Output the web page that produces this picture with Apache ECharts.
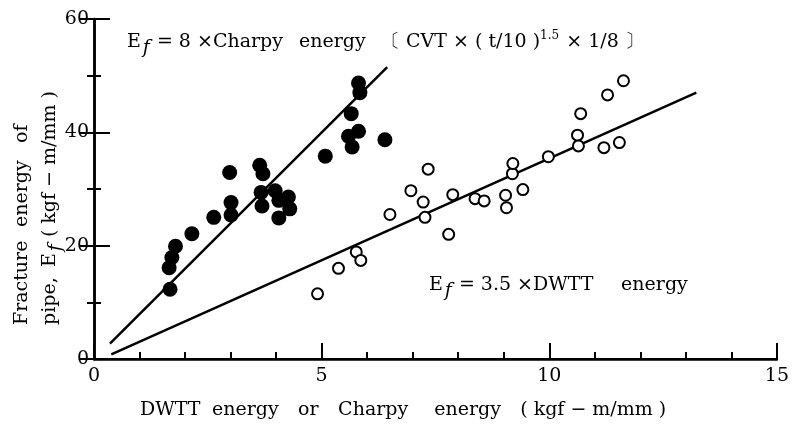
<!DOCTYPE html>
<html>
<head>
<meta charset="utf-8">
<script src="https://cdn.jsdelivr.net/npm/echarts@6/dist/echarts.min.js"></script>
<style>
  html, body { margin: 0; padding: 0; background: #fff; }
  #chart1 { width: 792px; height: 432px; }
</style>
</head>
<body>
<div id="chart1"></div>
<script>
// Charpy based points (filled)
var charpyX = [1.67, 1.65, 1.71, 1.79, 2.15, 2.63, 3.01, 3.01, 2.98, 3.64, 3.71, 3.67, 3.69,
    3.98, 4.06, 4.27, 4.30, 4.06, 5.08, 5.65, 5.81, 5.84, 5.81, 5.59, 5.67, 6.39];
var charpyY = [12.3, 16.1, 17.9, 19.9, 22.1, 25.0, 25.4, 27.6, 32.9, 34.2, 32.7, 29.4, 27.0,
    29.7, 28.0, 28.6, 26.5, 24.9, 35.8, 43.3, 48.7, 47.0, 40.2, 39.3, 37.4, 38.7];

// DWTT based points (open)
var dwttX = [4.91, 5.37, 5.76, 5.86, 6.50, 6.96, 7.23, 7.27, 7.34, 7.79, 7.88, 8.37, 8.57,
    9.04, 9.06, 9.19, 9.20, 9.42, 9.98, 10.62, 10.64, 10.69, 11.20, 11.28, 11.54, 11.63];
var dwttY = [11.5, 16.0, 18.9, 17.4, 25.5, 29.7, 27.7, 25.0, 33.5, 22.0, 29.0, 28.3, 27.9,
    28.9, 26.7, 32.7, 34.5, 29.9, 35.7, 39.5, 37.6, 43.3, 37.3, 46.6, 38.2, 49.1];

// fitted lines (end points)
var charpyLineX = [0.35, 6.44];
var charpyLineY = [2.7, 51.5];
var dwttLineX = [0.38, 13.23];
var dwttLineY = [0.8, 47.0];

var xTicks = [0, 5, 10, 15];
var yTicks = [0, 20, 40, 60];

function pairs(xs, ys) {
    var out = [];
    for (var i = 0; i < xs.length; i++) {
        out.push([xs[i], ys[i]]);
    }
    return out;
}

var serif = '"DejaVu Serif", "Liberation Serif", serif';
var fs = 19;
var font = fs + 'px ' + serif;
function box(w) {
    return { fontFamily: serif, fontSize: fs, width: w };
}
var rich = {
    a: { fontFamily: serif, fontSize: fs },
    sub: { fontFamily: serif, fontSize: fs, fontStyle: 'italic', padding: [12, 7, 0, 2] },
    sup: { fontFamily: serif, fontSize: 12, padding: [0, 1, 12, 0] },
    // word boxes, to spread the words a bit like the printed figure
    charpy: box(80),
    energyTop: box(76),
    dwtt: box(82),
    xw1: box(66),
    xw2: box(80),
    xw3: box(34),
    xw4: box(90),
    xw5: box(80),
    yw1: box(92),
    yw2: box(78),
    yw3: box(58)
};

var dom = document.getElementById("chart1");
var myChart = echarts.init(dom);

var option = {
    backgroundColor: '#fff',
    animation: false,
    grid: { left: 94, right: 6, top: 19, bottom: 73 },
    xAxis: [
        {
            type: 'value',
            min: xTicks[0],
            max: xTicks[xTicks.length - 1],
            interval: 5,
            axisLine: { lineStyle: { color: '#000', width: 2.5 } },
            axisTick: { inside: true, length: 16, lineStyle: { color: '#000', width: 2 } },
            minorTick: { show: true, splitNumber: 5, length: 7, lineStyle: { color: '#000', width: 2 } },
            splitLine: { show: false },
            axisLabel: { color: '#000', fontSize: 19, fontFamily: serif, margin: 8 }
        },
        {
            type: 'value',
            position: 'top',
            min: 0,
            max: 15,
            axisLine: { lineStyle: { color: '#000', width: 2 } },
            axisTick: { show: false },
            axisLabel: { show: false },
            splitLine: { show: false }
        }
    ],
    yAxis: [
        {
            type: 'value',
            min: yTicks[0],
            max: yTicks[yTicks.length - 1],
            interval: 20,
            axisLine: { lineStyle: { color: '#000', width: 2.5 } },
            axisTick: { inside: true, length: 16, lineStyle: { color: '#000', width: 2 } },
            minorTick: { show: true, splitNumber: 2, length: 7, lineStyle: { color: '#000', width: 2 } },
            splitLine: { show: false },
            axisLabel: { color: '#000', fontSize: 19, fontFamily: serif, margin: 5 }
        },
        {
            type: 'value',
            position: 'right',
            min: 0,
            max: 60,
            interval: 20,
            axisLine: { lineStyle: { color: '#000', width: 2.5 } },
            axisTick: { inside: true, length: 15, lineStyle: { color: '#000', width: 2 } },
            minorTick: { show: true, splitNumber: 2, length: 7, lineStyle: { color: '#000', width: 2 } },
            axisLabel: { show: false },
            splitLine: { show: false }
        }
    ],
    series: [
        {
            type: 'line',
            data: pairs(charpyLineX, charpyLineY),
            symbol: 'none',
            lineStyle: { color: '#000', width: 2.5 },
            z: 1
        },
        {
            type: 'line',
            data: pairs(dwttLineX, dwttLineY),
            symbol: 'none',
            lineStyle: { color: '#000', width: 2.5 },
            z: 1
        },
        {
            name: 'Charpy',
            type: 'scatter',
            data: pairs(charpyX, charpyY),
            symbol: 'circle',
            symbolSize: 15,
            itemStyle: { color: '#000', opacity: 1 },
            z: 3
        },
        {
            name: 'DWTT',
            type: 'scatter',
            data: pairs(dwttX, dwttY),
            symbol: 'circle',
            symbolSize: 11,
            itemStyle: { color: '#fff', borderColor: '#000', borderWidth: 2, opacity: 1 },
            z: 3
        }
    ],
    graphic: [
        {
            type: 'text',
            left: 127,
            top: 30,
            style: {
                text: '{a|E}{sub|f}{a|= 8 ×}{charpy|Charpy} {energyTop|energy} {a|〔 CVT × ( t/10 )}{sup|1.5}{a| × 1/8 〕}',
                font: font,
                fill: '#000',
                rich: rich
            }
        },
        {
            type: 'text',
            left: 429,
            top: 276,
            style: {
                text: '{a|E}{sub|f}{a|= 3.5 ×}{dwtt|DWTT} {a|energy}',
                font: font,
                fill: '#000',
                rich: rich
            }
        },
        {
            type: 'text',
            x: 22,
            y: 325,
            rotation: Math.PI / 2,
            style: {
                text: '{yw1|Fracture} {yw2|energy} {a|of}',
                font: font,
                fill: '#000',
                align: 'left',
                verticalAlign: 'middle',
                rich: rich
            }
        },
        {
            type: 'text',
            x: 50,
            y: 325,
            rotation: Math.PI / 2,
            style: {
                text: '{yw3|pipe,}{a|E}{sub|f}{a|( kgf − m/mm )}',
                font: font,
                fill: '#000',
                align: 'left',
                verticalAlign: 'middle',
                rich: rich
            }
        },
        {
            type: 'text',
            left: 140,
            top: 401,
            style: {
                text: '{xw1|DWTT} {xw2|energy} {xw3|or} {xw4|Charpy} {xw5|energy} {a|( kgf − m/mm )}',
                font: font,
                fill: '#000',
                rich: rich
            }
        }
    ]
};

if (option && typeof option === "object") {
    myChart.setOption(option, true);
}
</script>
</body>
</html>
